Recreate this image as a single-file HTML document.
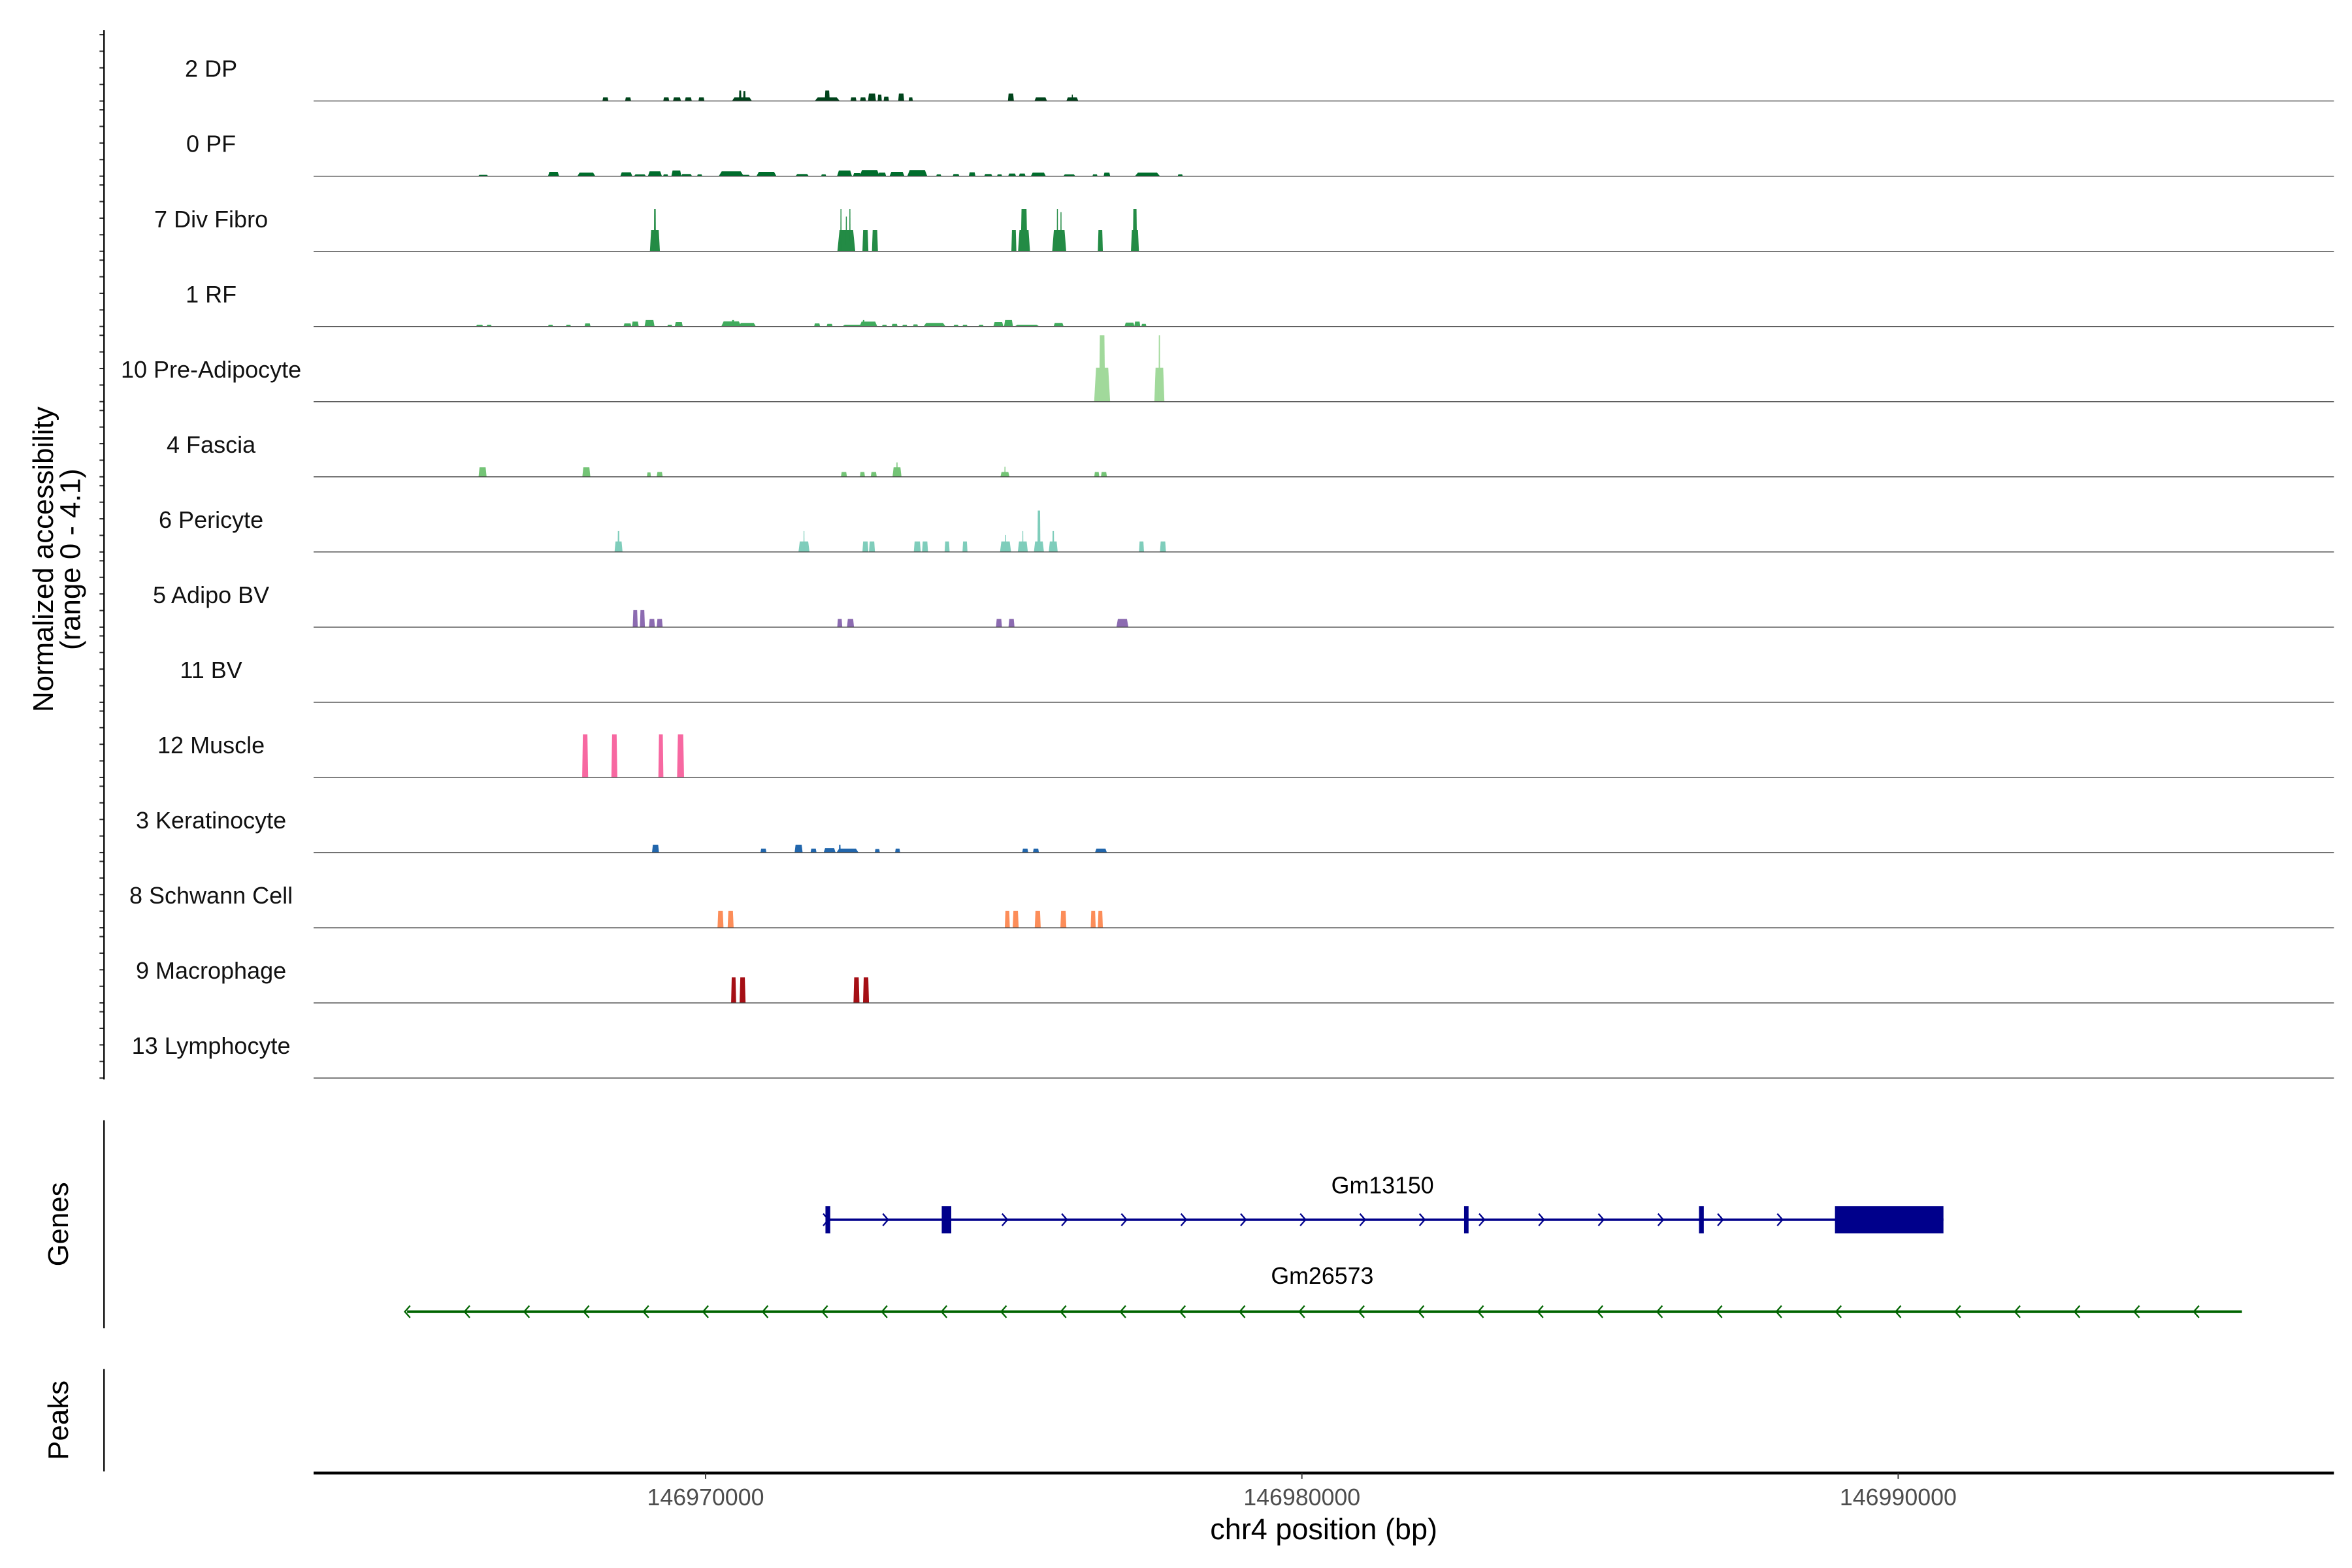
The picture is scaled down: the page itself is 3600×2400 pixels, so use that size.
<!DOCTYPE html>
<html><head><meta charset="utf-8"><style>html,body{margin:0;padding:0;background:#fff}svg{display:block}text{font-family:"Liberation Sans",sans-serif}</style></head>
<body>
<svg id="chart" xmlns="http://www.w3.org/2000/svg" width="3600" height="2400" viewBox="0 0 1560 1040">
<rect x="0" y="0" width="1560" height="1040" fill="#fff"/>
<g id="tracks"></g>
<g id="genes"></g>
<line x1="69" y1="20" x2="69" y2="716" stroke="#000" stroke-width="1"/>
<text x="0" y="0" transform="translate(35,371) rotate(-90)" text-anchor="middle" font-size="19">Normalized accessibility</text>
<text x="0" y="0" transform="translate(53,371) rotate(-90)" text-anchor="middle" font-size="19">(range 0 - 4.1)</text>
<line x1="69" y1="743" x2="69" y2="881" stroke="#000" stroke-width="1"/>
<text x="0" y="0" transform="translate(45,812) rotate(-90)" text-anchor="middle" font-size="19">Genes</text>
<line x1="69" y1="908" x2="69" y2="976" stroke="#000" stroke-width="1"/>
<text x="0" y="0" transform="translate(45,942) rotate(-90)" text-anchor="middle" font-size="19">Peaks</text>
<line x1="208" y1="977" x2="1548" y2="977" stroke="#000" stroke-width="1.8"/>
<g id="xticks"></g>
<text x="878" y="1021" text-anchor="middle" font-size="19.5">chr4 position (bp)</text>
</svg>
<script>
const NS = "http://www.w3.org/2000/svg";
const chromBaseKb = 146000;
const trackNames = ["2 DP","0 PF","7 Div Fibro","1 RF","10 Pre-Adipocyte","4 Fascia","6 Pericyte","5 Adipo BV","11 BV","12 Muscle","3 Keratinocyte","8 Schwann Cell","9 Macrophage","13 Lymphocyte"];
const trackColors = ["#00441b","#006d2c","#238b45","#41ab5d","#a1d99b","#74c476","#7fcdbb","#8c6bb1","#6a51a3","#f768a1","#2166ac","#fc8d59","#a50f15","#f7f7f7"];
const yMax = 4.1;
const xTickValues = [146970000,146980000,146990000];
const xTickLabels = ["146970000","146980000","146990000"];

const dpPos = [968.32,968.70,969.34,969.52,969.71,969.93,970.61,970.58,970.65,972.04,972.04,972.48,972.64,972.79,972.92,973.03,973.28,973.44,975.12,975.62,976.15,976.15];
const dpWid = [100,100,100,134,117,100,335,40,40,420,84,100,100,134,70,90,100,70,100,210,200,20];
const dpVal = [0.22,0.22,0.22,0.22,0.22,0.22,0.22,0.65,0.62,0.22,0.65,0.22,0.22,0.46,0.40,0.27,0.46,0.22,0.46,0.22,0.22,0.40];

const pfPos = [966.27,967.45,968.00,968.67,968.90,969.15,969.33,969.51,969.68,969.90,970.43,970.66,971.02,971.62,971.98,972.33,972.54,972.75,972.96,973.21,973.55,973.91,974.20,974.47,974.74,974.93,975.14,975.31,975.58,976.10,976.53,976.73,977.41,977.96];
const pfWid = [168,185,300,200,200,235,84,168,185,84,420,168,335,220,84,250,134,335,134,250,335,84,110,110,134,84,130,110,250,200,84,110,420,84];
const pfVal = [0.08,0.27,0.22,0.24,0.11,0.30,0.11,0.35,0.13,0.11,0.30,0.08,0.27,0.13,0.11,0.35,0.19,0.38,0.22,0.27,0.38,0.11,0.13,0.24,0.13,0.11,0.16,0.16,0.22,0.11,0.11,0.22,0.22,0.11];

const divPos = [969.15,969.15,972.36,972.27,972.42,972.36,972.68,972.84,975.17,975.34,975.34,975.93,975.90,975.96,976.62,977.20,977.20];
const divWid = [168,34,300,20,20,20,100,100,84,200,110,235,20,20,84,134,70];
const divVal = [1.32,2.61,1.32,2.61,2.61,2.15,1.32,1.32,1.32,1.32,2.61,1.32,2.61,2.42,1.32,1.32,2.61];

const rfPos = [966.21,966.37,967.40,967.70,968.02,968.69,968.82,969.06,969.40,969.55,970.43,970.46,970.70,971.87,972.08,972.46,972.73,972.65,973.00,973.17,973.34,973.52,973.84,974.20,974.35,974.62,974.91,975.08,975.39,975.92,977.11,977.24,977.35];
const rfWid = [117,84,84,84,100,134,117,168,84,134,335,40,285,100,100,335,300,30,84,100,84,84,370,84,84,84,168,150,420,168,168,100,84];
const rfVal = [0.11,0.11,0.11,0.11,0.19,0.19,0.30,0.40,0.11,0.27,0.32,0.40,0.22,0.19,0.16,0.11,0.30,0.40,0.11,0.16,0.11,0.13,0.22,0.11,0.11,0.11,0.27,0.40,0.11,0.22,0.24,0.30,0.16];

const preAdPos = [976.65,976.65,977.61,977.61];
const preAdWid = [268,100,168,25];
const preAdVal = [2.10,4.10,2.10,4.10];

const fasciaPos = [966.26,968.00,969.05,969.23,972.32,972.63,972.82,973.21,973.21,975.02,975.02,976.56,976.68];
const fasciaWid = [134,134,67,100,100,84,100,150,20,150,17,84,100];
const fasciaVal = [0.59,0.59,0.27,0.30,0.30,0.30,0.30,0.59,0.89,0.30,0.62,0.30,0.30];

const periPos = [968.54,968.54,971.65,971.65,972.68,972.79,973.55,973.68,974.05,974.35,975.03,975.03,975.32,975.32,975.59,975.59,975.83,975.83,977.31,977.67];
const periWid = [134,30,185,17,100,100,117,100,84,84,185,20,168,17,168,50,150,30,84,100];
const periVal = [0.65,1.29,0.65,1.29,0.65,0.65,0.65,0.65,0.65,0.65,0.65,1.05,0.65,1.29,0.65,2.56,0.65,1.29,0.65,0.65];

const adipoBvPos = [968.82,968.94,969.10,969.23,972.25,972.43,974.92,975.13,976.99];
const adipoBvWid = [84,84,100,100,84,117,100,100,200];
const adipoBvVal = [1.05,1.05,0.51,0.51,0.51,0.51,0.51,0.51,0.51];

const bvPos = [];
const bvWid = [];
const bvVal = [];

const musclePos = [967.98,968.47,969.25,969.58];
const muscleWid = [100,100,84,117];
const muscleVal = [2.66,2.66,2.66,2.66];

const keraPos = [969.16,970.97,971.56,971.81,972.08,972.38,972.25,972.88,973.22,975.36,975.54,976.63];
const keraWid = [117,100,134,100,200,370,30,84,84,100,100,200];
const keraVal = [0.49,0.25,0.49,0.25,0.28,0.25,0.49,0.22,0.25,0.25,0.25,0.25];

const schwannPos = [970.25,970.42,975.06,975.20,975.57,976.00,976.50,976.62];
const schwannWid = [100,100,84,100,100,100,84,84];
const schwannVal = [1.05,1.05,1.05,1.05,1.05,1.05,1.05,1.05];

const macroPos = [970.47,970.62,972.53,972.69];
const macroWid = [84,100,100,100];
const macroVal = [1.58,1.58,1.58,1.58];

const lymphoPos = [];
const lymphoWid = [];
const lymphoVal = [];

const gene1Name = "Gm13150";
const gene1Start = 146972023;
const gene1End = 146990759;
const gene1ExonStarts = [146972010,146973960,146982720,146986660,146988940];
const gene1ExonEnds = [146972090,146974120,146982795,146986740,146990759];
const gene2Name = "Gm26573";
const gene2Start = 146964994;
const gene2End = 146995765;

const allPos = [dpPos,pfPos,divPos,rfPos,preAdPos,fasciaPos,periPos,adipoBvPos,bvPos,musclePos,keraPos,schwannPos,macroPos,lymphoPos];
const allWid = [dpWid,pfWid,divWid,rfWid,preAdWid,fasciaWid,periWid,adipoBvWid,bvWid,muscleWid,keraWid,schwannWid,macroWid,lymphoWid];
const allVal = [dpVal,pfVal,divVal,rfVal,preAdVal,fasciaVal,periVal,adipoBvVal,bvVal,muscleVal,keraVal,schwannVal,macroVal,lymphoVal];

const plotLeft = 208, plotRight = 1548;
const refBp = 146970000, refX = 468, pxPerKb = 39.55;
function xScale(bp){ return refX + (bp - refBp) / 1000 * pxPerKb; }
const trackTop0 = 67, trackStep = 49.85, trackH = 44;
function baseY(i){ return trackTop0 + i * trackStep; }
function yScale(i, v){ return baseY(i) - Math.min(v, yMax) / yMax * trackH; }
function mk(tag, attrs, parent){ const e = document.createElementNS(NS, tag); for (const k in attrs) e.setAttribute(k, attrs[k]); parent.appendChild(e); return e; }

const tracksG = document.getElementById('tracks');
trackNames.forEach((name, i) => {
  const g = mk('g', {}, tracksG);
  
  
  const yb = baseY(i);
  const lab = mk('text', {x: 140, y: yb - 16, 'text-anchor': 'middle', 'font-size': 15.6, fill: '#111'}, g);
  lab.textContent = name;
  
  
  const pos = allPos[i], wid = allWid[i], val = allVal[i];
  for (let k = 0; k < pos.length; k++) {
    const c = (chromBaseKb + pos[k]) * 1000;
    const xl = xScale(c - wid[k] / 2), xr = xScale(c + wid[k] / 2);
    const dw = xr - xl, yt = yScale(i, val[k]);
    const pts = [[xl, yb], [xl + dw * 0.12, yt], [xr - dw * 0.12, yt], [xr, yb]].map(p => p[0].toFixed(2) + ',' + p[1].toFixed(2)).join(' ');
    const p = mk('polygon', {points: pts, fill: trackColors[i]}, g);
    
    
  }
  const bl = mk('line', {x1: plotLeft, y1: yb, x2: plotRight, y2: yb, stroke: '#444', 'stroke-width': 0.6}, g);
  
  
  for (let t = 0; t <= 4; t++) {
    const tk = mk('line', {x1: 66, y1: yb - t * 11, x2: 69, y2: yb - t * 11, stroke: '#333', 'stroke-width': 0.9}, g);
    
    
  }
});

const xt = document.getElementById('xticks');
xTickValues.forEach((v, i) => {
  const x = xScale(v);
  const l = mk('line', {x1: x, y1: 977, x2: x, y2: 981, stroke: '#333', 'stroke-width': 0.8}, xt);
  
  
  const t = mk('text', {x: x, y: 998.5, 'text-anchor': 'middle', 'font-size': 15.5, fill: '#4d4d4d'}, xt);
  t.textContent = xTickLabels[i];
  
  
});

const gG = document.getElementById('genes');
(function(){
  const y = 809, col = '#00008b';
  const g = mk('g', {}, gG);
  
  
  const ln = mk('line', {x1: xScale(gene1Start), y1: y, x2: xScale(gene1End), y2: y, stroke: col, 'stroke-width': 1.6}, g);
  
  
  for (let b = gene1Start; b < gene1End - 300; b += 1000) {
    const x = xScale(b);
    const a = mk('polyline', {points: `${x-2},${y-4} ${x+1.5},${y} ${x-2},${y+4}`, fill: 'none', stroke: col, 'stroke-width': 1}, g);
    
    
  }
  gene1ExonStarts.forEach((s, k) => {
    const x1 = xScale(s), x2 = xScale(gene1ExonEnds[k]);
    const r = mk('rect', {x: x1, y: y - 9, width: Math.max(x2 - x1, 2.5), height: 18, fill: col}, g);
    
    
  });
  const t = mk('text', {x: 917, y: 791.5, 'text-anchor': 'middle', 'font-size': 15.5}, g);
  t.textContent = gene1Name;
  
  
})();
(function(){
  const y = 870, col = '#006400';
  const g = mk('g', {}, gG);
  
  
  const ln = mk('line', {x1: xScale(gene2Start), y1: y, x2: xScale(gene2End), y2: y, stroke: col, 'stroke-width': 1.8}, g);
  
  
  for (let b = gene2Start; b < gene2End - 300; b += 1000) {
    const x = xScale(b);
    const a = mk('polyline', {points: `${x+2},${y-4} ${x-1.5},${y} ${x+2},${y+4}`, fill: 'none', stroke: col, 'stroke-width': 1}, g);
    
    
  }
  const t = mk('text', {x: 877, y: 851.5, 'text-anchor': 'middle', 'font-size': 15.5}, g);
  t.textContent = gene2Name;
  
  
})();
</script>
</body></html>
